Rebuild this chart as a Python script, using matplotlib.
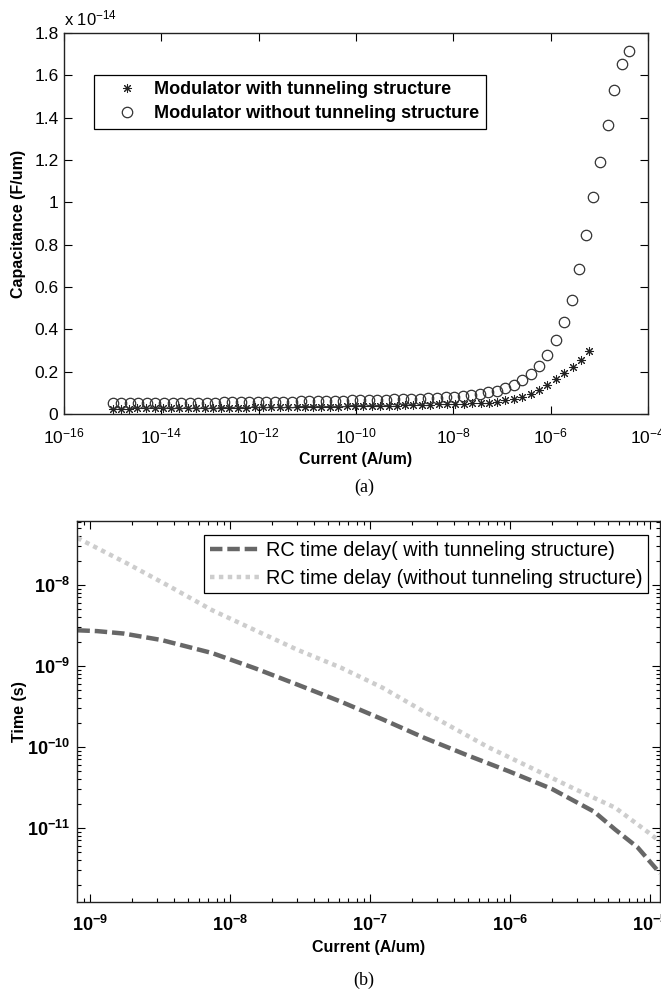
import numpy as np
import matplotlib
matplotlib.use("Agg")
import matplotlib.pyplot as plt
from matplotlib import font_manager
from matplotlib.ticker import FixedLocator, FuncFormatter, LogLocator, NullFormatter

# fonts
names = {f.name for f in font_manager.fontManager.ttflist}
narrow = "Liberation Sans Narrow" if "Liberation Sans Narrow" in names else "Liberation Sans"
plt.rcParams["font.family"] = "Liberation Sans"
plt.rcParams["mathtext.fontset"] = "custom"
plt.rcParams["mathtext.rm"] = "Liberation Sans"
plt.rcParams["mathtext.bf"] = narrow + ":bold"

# (a) capacitance vs current, log10 of current in A/um, capacitance in 1e-14 F/um
cap_with_logI = [
    -15.00, -14.83, -14.66, -14.49, -14.32, -14.14, -13.97, -13.80, -13.63, -13.46,
    -13.28, -13.11, -12.94, -12.77, -12.60, -12.43, -12.25, -12.08, -11.91, -11.74,
    -11.57, -11.40, -11.22, -11.05, -10.88, -10.71, -10.54, -10.36, -10.19, -10.02,
    -9.85, -9.68, -9.51, -9.33, -9.16, -8.99, -8.82, -8.65, -8.47, -8.30,
    -8.13, -7.96, -7.79, -7.62, -7.44, -7.27, -7.10, -6.93, -6.76, -6.58,
    -6.41, -6.24, -6.07, -5.90, -5.73, -5.55, -5.38, -5.21]
cap_with = [
    0.025, 0.025, 0.025, 0.026, 0.026, 0.026, 0.027, 0.027, 0.027, 0.028,
    0.028, 0.028, 0.029, 0.029, 0.029, 0.030, 0.030, 0.031, 0.031, 0.031,
    0.032, 0.032, 0.033, 0.033, 0.034, 0.034, 0.035, 0.035, 0.036, 0.036,
    0.037, 0.038, 0.038, 0.039, 0.040, 0.041, 0.042, 0.043, 0.044, 0.045,
    0.046, 0.047, 0.049, 0.050, 0.052, 0.054, 0.059, 0.066, 0.072, 0.082,
    0.094, 0.113, 0.138, 0.164, 0.192, 0.222, 0.255, 0.298]

cap_without_logI = [
    -15.00, -14.82, -14.65, -14.47, -14.30, -14.12, -13.95, -13.77, -13.60, -13.42,
    -13.25, -13.07, -12.90, -12.72, -12.54, -12.37, -12.19, -12.02, -11.84, -11.67,
    -11.49, -11.32, -11.14, -10.97, -10.79, -10.61, -10.44, -10.26, -10.09, -9.91,
    -9.74, -9.56, -9.39, -9.21, -9.04, -8.86, -8.68, -8.51, -8.33, -8.16,
    -7.98, -7.81, -7.63, -7.46, -7.28, -7.11, -6.93, -6.75, -6.58, -6.41,
    -6.24, -6.07, -5.90, -5.73, -5.57, -5.42, -5.27, -5.13, -4.98, -4.83,
    -4.69, -4.54, -4.40]
cap_without = [
    0.050, 0.050, 0.050, 0.051, 0.051, 0.051, 0.052, 0.052, 0.052, 0.053,
    0.053, 0.054, 0.054, 0.055, 0.055, 0.056, 0.056, 0.057, 0.057, 0.058,
    0.058, 0.059, 0.060, 0.060, 0.061, 0.062, 0.063, 0.063, 0.064, 0.065,
    0.066, 0.067, 0.068, 0.069, 0.070, 0.072, 0.073, 0.075, 0.077, 0.079,
    0.082, 0.085, 0.090, 0.096, 0.103, 0.111, 0.121, 0.138, 0.160, 0.190,
    0.228, 0.279, 0.349, 0.434, 0.538, 0.685, 0.845, 1.025, 1.190, 1.365,
    1.531, 1.653, 1.715]

# (b) RC delay vs current, both in log10
rc_with_logI = [-9.09, -8.95, -8.76, -8.49, -8.13, -7.82, -7.52, -7.21, -6.91,
                -6.61, -6.31, -6.01, -5.70, -5.40, -5.25, -5.09, -4.93]
rc_with_logT = [-8.56, -8.57, -8.60, -8.68, -8.84, -9.03, -9.23, -9.44, -9.66,
                -9.89, -10.10, -10.30, -10.52, -10.80, -11.02, -11.24, -11.56]
rc_without_logI = [-9.09, -8.74, -8.43, -8.13, -7.82, -7.52, -7.21, -6.91, -6.61,
                   -6.16, -5.86, -5.55, -5.25, -5.01, -4.93]
rc_without_logT = [-7.42, -7.73, -8.02, -8.31, -8.56, -8.80, -9.02, -9.27, -9.57,
                   -10.00, -10.25, -10.51, -10.75, -11.06, -11.17]

fig = plt.figure(figsize=(6.61, 9.94), dpi=100)

# ---- top panel
ax1 = fig.add_axes([0.0968, 0.5835, 0.8835, 0.3833])
ax1.set_xscale("log")
ax1.plot(10.0 ** np.array(cap_with_logI), np.array(cap_with) * 1e-14, linestyle="none",
         marker=(8, 2, 0), ms=6.5, mew=0.75, color="#222222",
         label="Modulator with tunneling structure")
ax1.plot(10.0 ** np.array(cap_without_logI), np.array(cap_without) * 1e-14, linestyle="none",
         marker="o", ms=7.5, mfc="none", mec="#333333", mew=0.9,
         label="Modulator without tunneling structure")
ax1.set_xlim(1e-16, 1e-4)
ax1.set_ylim(0, 1.8e-14)
ax1.xaxis.set_major_locator(FixedLocator([10.0 ** e for e in range(-16, -3, 2)]))
ax1.xaxis.set_minor_locator(FixedLocator([]))
ax1.xaxis.set_major_formatter(FuncFormatter(lambda v, p: r"$\mathrm{10^{%d}}$" % round(np.log10(v))))
ax1.yaxis.set_major_locator(FixedLocator(np.arange(0, 1.81, 0.2) * 1e-14))
ax1.yaxis.set_major_formatter(FuncFormatter(lambda v, p: "%g" % round(v / 1e-14, 3)))
ax1.tick_params(which="both", direction="in", top=True, right=True, length=6,
                width=0.8, labelsize=12.5)
ax1.tick_params(axis="x", pad=9)
ax1.tick_params(axis="y", pad=4)
ax1.text(0.0, 1.012, r"x $\mathrm{10^{-14}}$", transform=ax1.transAxes, fontsize=12,
         ha="left", va="bottom")
ax1.set_xlabel("Current (A/um)", fontsize=11.5, fontweight="bold", labelpad=4)
ax1.set_ylabel("Capacitance (F/um)", fontsize=11.5, fontweight="bold", labelpad=6)
leg1 = ax1.legend(loc="upper left", bbox_to_anchor=(0.0514, 0.89), fancybox=False,
                  edgecolor="black", framealpha=1, borderaxespad=0, handletextpad=0.1,
                  borderpad=0.35, labelspacing=0.4, handlelength=2.9,
                  prop={"weight": "bold", "size": 13})
leg1.get_frame().set_linewidth(0.9)
fig.text(364 / 661, 1 - 487 / 994, "(a)", family="Liberation Serif", fontsize=13,
         ha="center", va="center")

# ---- bottom panel
ax2 = fig.add_axes([0.1165, 0.0926, 0.882, 0.3833])
ax2.set_xscale("log")
ax2.set_yscale("log")
ax2.plot(10.0 ** np.array(rc_with_logI), 10.0 ** np.array(rc_with_logT), color="#676767",
         lw=3.2, dashes=(2.8, 1.1), label="RC time delay( with tunneling structure)")
ax2.plot(10.0 ** np.array(rc_without_logI), 10.0 ** np.array(rc_without_logT), color="#cdcdcd",
         lw=3.2, dashes=(1.0, 1.0), label="RC time delay (without tunneling structure)")
ax2.set_xlim(10 ** -9.093, 10 ** -4.93)
ax2.set_ylim(10 ** -11.914, 10 ** -7.21)
ax2.xaxis.set_major_locator(LogLocator(base=10, numticks=20))
ax2.xaxis.set_minor_locator(LogLocator(base=10, subs=np.arange(2, 10), numticks=20))
ax2.yaxis.set_major_locator(LogLocator(base=10, numticks=20))
ax2.yaxis.set_minor_locator(LogLocator(base=10, subs=np.arange(2, 10), numticks=20))
ax2.xaxis.set_minor_formatter(NullFormatter())
ax2.yaxis.set_minor_formatter(NullFormatter())
bold_pow = FuncFormatter(lambda v, p: r"$\mathbf{10^{%d}}$" % round(np.log10(v)))
ax2.xaxis.set_major_formatter(bold_pow)
ax2.yaxis.set_major_formatter(bold_pow)
ax2.tick_params(which="major", direction="in", top=True, right=True, length=6,
                width=0.8, labelsize=13, pad=5)
ax2.tick_params(axis="x", which="major", pad=9)
ax2.tick_params(which="minor", direction="in", top=True, right=True, length=3, width=0.8)
ax2.set_xlabel("Current (A/um)", fontsize=11.5, fontweight="bold", family=narrow, labelpad=4)
ax2.set_ylabel("Time (s)", fontsize=11.5, fontweight="bold", family=narrow, labelpad=0)
leg2 = ax2.legend(loc="upper right", bbox_to_anchor=(0.979, 0.963), fancybox=False,
                  edgecolor="black", framealpha=1, borderaxespad=0, handletextpad=0.3,
                  borderpad=0.28, labelspacing=0.45, handlelength=2.5,
                  prop={"family": narrow, "size": 14.3})
leg2.get_frame().set_linewidth(0.9)
fig.text(364 / 661, 1 - 980 / 994, "(b)", family="Liberation Serif", fontsize=13,
         ha="center", va="center")

for ax in (ax1, ax2):
    for s in ax.spines.values():
        s.set_linewidth(1.0)
        s.set_color("#222222")

fig.savefig("out.png", dpi=100)
